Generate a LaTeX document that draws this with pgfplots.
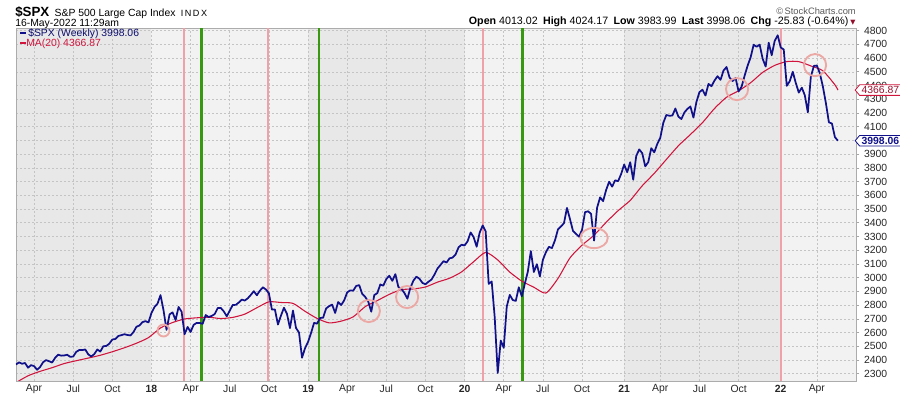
\documentclass[border=0pt]{standalone}
\usepackage{fontspec}
\setmainfont{Liberation Sans}
\newfontfamily\symfont{DejaVu Sans}
\usepackage{pgfplots}
\pgfplotsset{compat=1.18}
\usepackage{pgfplotstable}
\usetikzlibrary{shapes.symbols}
\definecolor{spx}{HTML}{10108A}
\definecolor{ma}{HTML}{D0143C}
\definecolor{redv}{HTML}{F0A0A8}
\definecolor{greenv}{HTML}{36990F}
\definecolor{circ}{HTML}{EBA8A4}
\definecolor{banddark}{HTML}{E8E8E8}
\definecolor{bandlight}{HTML}{F2F2F2}
\definecolor{gridc}{HTML}{C4C4C4}

\pgfplotstableread{
i v
0 2367.34
1 2383.12
2 2372.60
3 2378.25
4 2343.98
5 2362.72
6 2355.54
7 2328.95
8 2348.69
9 2384.20
10 2399.29
11 2390.90
12 2381.73
13 2415.82
14 2439.07
15 2431.77
16 2433.15
17 2438.30
18 2423.41
19 2425.18
20 2459.27
21 2472.54
22 2472.10
23 2476.83
24 2441.32
25 2425.55
26 2443.05
27 2476.55
28 2461.43
29 2500.23
30 2502.22
31 2519.36
32 2549.33
33 2553.17
34 2575.21
35 2581.07
36 2587.84
37 2582.30
38 2578.85
39 2602.42
40 2642.22
41 2651.50
42 2675.81
43 2683.34
44 2673.61
45 2743.15
46 2786.24
47 2810.30
48 2872.87
49 2762.13
50 2619.55
51 2732.22
52 2747.30
53 2691.25
54 2786.57
55 2752.01
56 2588.26
57 2640.87
58 2604.47
59 2656.30
60 2670.14
61 2669.91
62 2663.42
63 2727.72
64 2712.97
65 2721.33
66 2734.62
67 2779.03
68 2779.66
69 2754.88
70 2718.37
71 2759.82
72 2801.31
73 2801.83
74 2818.82
75 2840.35
76 2833.28
77 2850.13
78 2874.69
79 2901.52
80 2871.68
81 2904.98
82 2929.67
83 2913.98
84 2885.57
85 2767.13
86 2767.78
87 2658.69
88 2723.06
89 2781.01
90 2736.27
91 2632.56
92 2760.17
93 2633.08
94 2599.95
95 2416.62
96 2485.74
97 2531.94
98 2596.26
99 2670.71
100 2664.76
101 2706.53
102 2707.88
103 2775.60
104 2792.67
105 2803.69
106 2743.07
107 2822.48
108 2800.71
109 2834.40
110 2892.74
111 2907.41
112 2905.03
113 2939.88
114 2945.64
115 2881.40
116 2859.53
117 2826.06
118 2752.06
119 2873.34
120 2886.98
121 2950.46
122 2941.76
123 2990.41
124 3013.77
125 2976.61
126 3025.86
127 2932.05
128 2918.65
129 2888.68
130 2847.11
131 2926.46
132 2978.71
133 3007.39
134 2992.07
135 2961.79
136 2952.01
137 2970.27
138 2986.20
139 3022.55
140 3066.91
141 3093.08
142 3120.46
143 3110.29
144 3140.98
145 3145.91
146 3168.79
147 3221.22
148 3240.02
149 3234.85
150 3265.35
151 3329.62
152 3295.47
153 3225.52
154 3327.71
155 3380.16
156 3337.75
157 2954.22
158 2972.37
159 2711.02
160 2304.92
161 2541.47
162 2488.65
163 2789.82
164 2874.56
165 2836.74
166 2830.71
167 2929.80
168 2863.70
169 2955.45
170 3044.31
171 3193.93
172 3041.31
173 3097.74
174 3009.05
175 3130.01
176 3185.04
177 3224.73
178 3215.63
179 3271.12
180 3351.28
181 3372.85
182 3397.16
183 3508.01
184 3426.96
185 3340.97
186 3319.47
187 3298.46
188 3348.44
189 3477.13
190 3483.81
191 3465.39
192 3269.96
193 3509.44
194 3585.15
195 3557.54
196 3638.35
197 3699.12
198 3663.46
199 3709.41
200 3703.06
201 3756.07
202 3824.68
203 3768.25
204 3841.47
205 3714.24
206 3886.83
207 3934.83
208 3906.71
209 3811.15
210 3841.94
211 3943.34
212 3913.10
213 3974.54
214 4019.87
215 4128.80
216 4185.47
217 4180.17
218 4181.17
219 4232.60
220 4173.85
221 4155.86
222 4204.11
223 4229.89
224 4247.44
225 4166.45
226 4280.70
227 4352.34
228 4369.55
229 4327.16
230 4411.79
231 4395.26
232 4436.52
233 4468.00
234 4441.67
235 4509.37
236 4535.43
237 4458.58
238 4432.99
239 4455.48
240 4357.04
241 4391.34
242 4471.37
243 4544.90
244 4605.38
245 4697.53
246 4682.85
247 4697.96
248 4594.62
249 4538.43
250 4712.02
251 4620.64
252 4725.79
253 4766.18
254 4677.03
255 4662.85
256 4397.94
257 4431.85
258 4500.53
259 4418.64
260 4348.87
261 4384.65
262 4328.87
263 4204.31
264 4463.12
265 4543.06
266 4545.86
267 4488.28
268 4392.59
269 4271.78
270 4131.93
271 4123.34
272 4023.89
273 3998.06
}\spxdata

\pgfplotstableread{
i v
0 2235.3
4 2285.0
8 2317.3
12 2344.0
16 2374.1
20 2394.8
24 2414.1
28 2434.6
32 2460.3
36 2489.1
40 2522.1
44 2563.2
48 2633.5
52 2673.0
56 2699.1
60 2707.4
64 2711.8
68 2702.0
72 2710.6
76 2734.4
80 2780.8
84 2823.9
88 2819.0
92 2812.8
96 2754.9
100 2703.1
104 2670.6
108 2683.2
112 2714.7
116 2789.2
120 2832.9
124 2878.5
128 2912.7
132 2917.8
136 2932.1
140 2967.5
144 2995.9
148 3042.0
152 3116.2
156 3184.2
160 3129.0
164 3040.5
168 2974.8
172 2930.3
176 2887.8
180 2993.8
184 3144.3
188 3236.5
192 3309.6
196 3403.0
200 3488.6
204 3562.8
208 3669.7
212 3760.3
216 3861.3
220 3961.0
224 4043.3
228 4129.6
232 4232.7
236 4315.0
240 4361.8
244 4420.5
248 4495.8
252 4547.1
256 4574.6
260 4574.4
264 4542.9
268 4507.7
272 4405.4
273 4366.87
}\madata

\begin{document}
\begin{tikzpicture}
\begin{axis}[
  set layers,
  at={(0pt,0pt)}, anchor=south west,
  scale only axis, width=630pt, height=264.4pt,
  xmin=0, xmax=279, ymin=2247, ymax=4816,
  clip mode=individual,
  axis line style={draw=gray!65, line width=0.6pt},
  xtick={6,19,32,45,58,71,84,97,110,123,136,149,162,175,188,202,214,227,240,254,266},
  xticklabels={Apr,Jul,Oct,\textbf{18},Apr,Jul,Oct,\textbf{19},Apr,Jul,Oct,\textbf{20},Apr,Jul,Oct,\textbf{21},Apr,Jul,Oct,\textbf{22},Apr},
  xticklabel style={yshift=3.2pt},
  ytick={2300,2400,...,4800},
  ytick pos=right, yticklabel pos=right,
  tick align=outside,
  major tick length=2.5pt,
  xtick style={draw=none},
  ytick style={draw=gray!70, line width=0.5pt},
  grid=major,
  major grid style={draw=gridc, dash pattern=on 1.5pt off 1.5pt, line width=0.45pt},
  tick label style={font=\fontsize{7.8}{9}\selectfont, text=black!85},
  /pgf/number format/assume math mode=true,
  /pgf/number format/1000 sep={},
  scaled y ticks=false,
]
\addplot[on layer=axis background, draw=none, fill=banddark] coordinates {(0,2247)(45,2247)(45,4816)(0,4816)} -- cycle;
\addplot[on layer=axis background, draw=none, fill=bandlight] coordinates {(45,2247)(97,2247)(97,4816)(45,4816)} -- cycle;
\addplot[on layer=axis background, draw=none, fill=banddark] coordinates {(97,2247)(149,2247)(149,4816)(97,4816)} -- cycle;
\addplot[on layer=axis background, draw=none, fill=bandlight] coordinates {(149,2247)(202,2247)(202,4816)(149,4816)} -- cycle;
\addplot[on layer=axis background, draw=none, fill=banddark] coordinates {(202,2247)(254,2247)(254,4816)(202,4816)} -- cycle;
\addplot[on layer=axis background, draw=none, fill=bandlight] coordinates {(254,2247)(279,2247)(279,4816)(254,4816)} -- cycle;

\addplot[redv, line width=1.2pt] coordinates {(55.8,2247)(55.8,4816)};
\addplot[greenv, line width=1.9pt] coordinates {(61.7,2247)(61.7,4816)};
\addplot[redv, line width=1.2pt] coordinates {(83.6,2247)(83.6,4816)};
\addplot[greenv, line width=1.9pt] coordinates {(100.6,2247)(100.6,4816)};
\addplot[redv, line width=1.2pt] coordinates {(155.2,2247)(155.2,4816)};
\addplot[greenv, line width=1.9pt] coordinates {(168.3,2247)(168.3,4816)};
\addplot[redv, line width=1.2pt] coordinates {(254.1,2247)(254.1,4816)};

\addplot[ma, line width=0.8pt, smooth, tension=0.4] table[x=i,y=v]{\madata};
\addplot[spx, line width=1.3pt, line join=round] table[x=i,y=v]{\spxdata};

\addplot[only marks, mark=o, mark size=4.5pt, mark options={draw=circ, line width=1.4pt}] coordinates {(49.0,2615)};
\addplot[only marks, mark=o, mark size=8.3pt, mark options={draw=circ, line width=1.4pt}] coordinates {(117.2,2757)(129.9,2859)(239.5,4374)(265.4,4549)};
\addplot[only marks, mark=o, mark size=7.6pt, mark options={draw=circ, line width=1.4pt, xscale=1.35}] coordinates {(192.0,3289)};

\node[shape=signal, signal to=west, signal pointer angle=100, draw=ma, fill=white, line width=0.6pt,
      inner xsep=1.5pt, inner ysep=1.2pt, font=\fontsize{7.8}{9}\selectfont, text=ma!75!black, anchor=west]
      at (axis cs:279,4366.87) [xshift=-1pt] {4366.87};
\node[shape=signal, signal to=west, signal pointer angle=100, draw=spx, fill=white, line width=0.6pt,
      inner xsep=1.5pt, inner ysep=1.2pt, font=\fontsize{7.8}{9}\selectfont\bfseries, text=spx, anchor=west]
      at (axis cs:279,3998.06) [xshift=-1pt] {3998.06};
\end{axis}

% header
\node[anchor=base west, inner sep=0pt] at (-0.75pt,273.4pt)
  {{\fontsize{10}{12}\selectfont\bfseries \$SPX}\hspace{4pt}{\fontsize{7.8}{9}\selectfont S\&P 500 Large Cap Index}\hspace{4pt}{\fontsize{6.8}{8}\selectfont I\,N\,D\,X}};
\node[anchor=base west, inner sep=0pt] at (-0.75pt,265.9pt)
  {\fontsize{7.8}{9}\selectfont 16-May-2022 11:29am};
\node[anchor=base east, inner sep=0pt, text=black!65] at (630pt,274.9pt)
  {\fontsize{7}{8}\selectfont \textcopyright\,StockCharts.com};
\node[anchor=base east, inner sep=0pt] at (624.5pt,267pt)
  {\fontsize{8}{9}\selectfont \textbf{Open} 4013.02\hspace{4pt}\textbf{High} 4024.17\hspace{4pt}\textbf{Low} 3983.99\hspace{4pt}\textbf{Last} 3998.06\hspace{4pt}\textbf{Chg} -25.83 (-0.64\%)};
\node[anchor=base west, inner sep=0pt, text=ma!70!black] at (625.5pt,267.5pt)
  {\symfont\fontsize{5}{6}\selectfont ▼};
% legend
\node[anchor=west, inner sep=0pt, text=spx!80!black] at (3pt,260.25pt)
  {\fontsize{7.8}{9}\selectfont{\color{spx}\rule[0.28em]{4.5pt}{1.5pt}}\hspace{1.5pt}\$SPX (Weekly) 3998.06};
\node[anchor=west, inner sep=0pt, text=ma] at (3pt,252.75pt)
  {\fontsize{7.8}{9}\selectfont{\color{ma}\rule[0.28em]{4.5pt}{1.5pt}}MA(20) 4366.87};
\pgfresetboundingbox
\path[use as bounding box] (-12pt,-11.25pt) rectangle (663pt,285.75pt);
\end{tikzpicture}
\end{document}
